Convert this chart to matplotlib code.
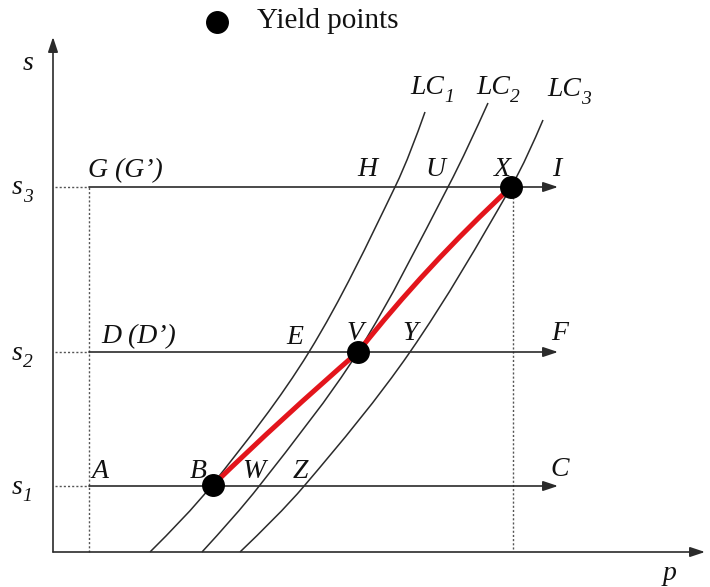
import numpy as np
import matplotlib
matplotlib.use('Agg')
import matplotlib.pyplot as plt
from matplotlib.path import Path
from matplotlib.patches import PathPatch

# stress levels and stress-path ranges (schematic units, origin at the axes corner)
s_levels = [66, 200, 365]
s_subs = ['1', '2', '3']
p_start = 36
p_end = 505
p_dotted = 459

# loading-collapse curves
lc1_s = [0, 67, 200, 365, 440]
lc1_p = [97, 159, 256, 342, 372]
lc2_s = [0, 67, 200, 365, 449]
lc2_p = [149, 207, 305, 395, 435]
lc3_s = [0, 67, 200, 365, 432]
lc3_p = [187, 252, 357, 458, 490]

# yield points B, V, X and a read point midway along each red segment
yield_p = [160, 305, 458]
yield_s = [67, 200, 365]
red_mid_p = [231, 377]
red_mid_s = [134, 284]

line_col = '#2b2b2b'
font = dict(family='Liberation Serif', style='italic', fontsize=20, color='#111111')


def smooth_path(xs, ys):
    # chord-length Catmull-Rom through the read points, as cubic Bezier segments
    pts = np.column_stack([xs, ys]).astype(float)
    t = np.concatenate([[0], np.cumsum(np.hypot(*np.diff(pts, axis=0).T))])
    n = len(pts)
    tang = np.zeros_like(pts)
    for i in range(1, n - 1):
        tang[i] = (pts[i + 1] - pts[i - 1]) / (t[i + 1] - t[i - 1])
    # ends: halfway between the chord direction and a parabolic end condition
    c0 = (pts[1] - pts[0]) / (t[1] - t[0])
    c1 = (pts[-1] - pts[-2]) / (t[-1] - t[-2])
    tang[0] = 1.5 * c0 - 0.5 * tang[1]
    tang[-1] = 1.5 * c1 - 0.5 * tang[-2]
    verts = [pts[0]]
    codes = [Path.MOVETO]
    for i in range(n - 1):
        h = t[i + 1] - t[i]
        verts += [pts[i] + tang[i] * h / 3, pts[i + 1] - tang[i + 1] * h / 3, pts[i + 1]]
        codes += [Path.CURVE4] * 3
    return Path(verts, codes)


def sub_label(x, y, base, sub):
    txt = ax.text(x, y, base, ha='left', va='center', **font)
    ax.annotate(sub, xy=(1.0, 0.12), xycoords=txt, ha='left', va='center',
                family='Liberation Serif', style='italic', fontsize=14, color='#111111')


fig = plt.figure(figsize=(7.1, 5.87), dpi=100)
ax = fig.add_axes([0, 0, 1, 1])
ax.set_xlim(-53, 657)
ax.set_ylim(-35, 552)
ax.axis('off')

arrow = dict(arrowstyle='-|>,head_length=0.9,head_width=0.3', lw=1.2,
             color=line_col, shrinkA=0, shrinkB=0)

# axes
ax.annotate('', xy=(652, 0), xytext=(0, 0), arrowprops=arrow)
ax.annotate('', xy=(0, 515), xytext=(0, 0), arrowprops=arrow)
ax.text(617, -21, 'p', ha='center', va='center', **font)
ax.text(-25, 488, 's', ha='center', va='center', **font)

# dotted guides and stress paths
dot = dict(color='#555555', lw=1.0, ls=(0, (1.5, 1.5)))
ax.plot([p_start, p_start], [0, s_levels[-1]], **dot)
ax.plot([p_dotted + 1, p_dotted + 1], [3, s_levels[-1]], **dot)
for s, sub in zip(s_levels, s_subs):
    ax.plot([2, p_start], [s, s], **dot)
    ax.annotate('', xy=(p_end, s), xytext=(p_start, s), arrowprops=arrow)
    sub_label(-41, s - 1, 's', sub)

# LC curves
for ss, pp, sub, lx, ly in [(lc1_s, lc1_p, '1', 357, 464),
                            (lc2_s, lc2_p, '2', 423, 464),
                            (lc3_s, lc3_p, '3', 494, 462)]:
    ax.add_patch(PathPatch(smooth_path(pp, ss), fill=False, ec=line_col, lw=1.1))
    sub_label(lx, ly, 'LC', sub)

# red yield path: one quadratic segment per pair of yield points, through the read mid point
for i in range(len(yield_p) - 1):
    a = np.array([yield_p[i], yield_s[i]], float)
    b = np.array([yield_p[i + 1], yield_s[i + 1]], float)
    m = np.array([red_mid_p[i], red_mid_s[i]], float)
    ctrl = 2 * m - (a + b) / 2
    seg = Path([a, ctrl, b], [Path.MOVETO, Path.CURVE3, Path.CURVE3])
    ax.add_patch(PathPatch(seg, fill=False, ec='#e3151c', lw=3.6, capstyle='round', zorder=3))
ax.plot(yield_p, yield_s, 'o', color='black', ms=15.5, zorder=4)

# point labels
labels = [
    ('G (G\u2019)', 72, 381), ('H', 314, 382), ('U', 382, 382), ('X', 449, 382), ('I', 504, 382),
    ('D (D\u2019)', 86, 215), ('E', 242, 215), ('V', 302, 218), ('Y', 357, 219), ('F', 507, 219),
    ('A', 47, 81), ('B', 145, 81), ('W', 201, 80), ('Z', 247, 80), ('C', 507, 83),
]
for txt, x, y in labels:
    ax.text(x, y, txt, ha='center', va='center', **font)

# legend
ax.plot([164], [530], 'o', color='black', ms=15.5)
ax.text(204, 531, 'Yield points', ha='left', va='center', family='Liberation Serif',
        fontsize=21, color='#111111')

fig.savefig('out.png', dpi=100)
